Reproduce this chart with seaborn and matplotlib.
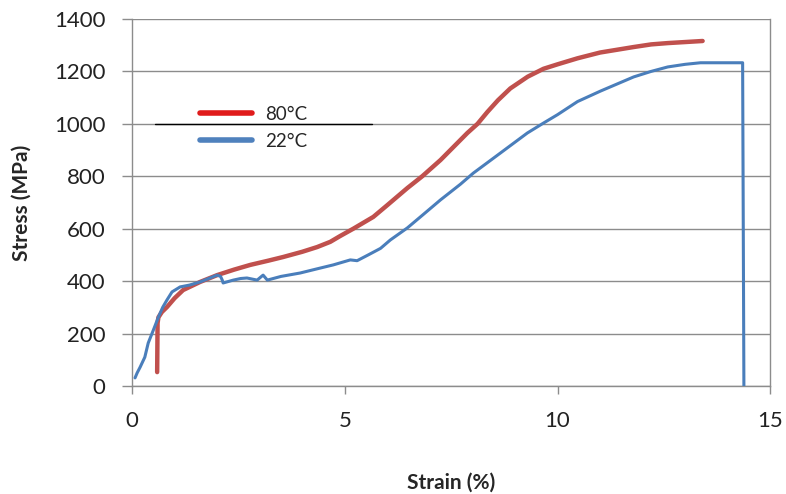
import matplotlib
matplotlib.use("Agg")
import matplotlib.pyplot as plt
import seaborn as sns
import pandas as pd
from matplotlib.lines import Line2D

# ---- data ----
strain_80 = [0.59, 0.60, 0.62, 0.70, 0.82, 1.00, 1.20, 1.60, 2.00, 2.40, 2.78, 3.20,
             3.55, 4.00, 4.35, 4.66, 4.89, 5.20, 5.67, 6.00, 6.47, 6.82, 7.25, 7.88,
             8.12, 8.35, 8.60, 8.89, 9.30, 9.67, 10.00, 10.47, 11.00, 11.79, 12.20,
             12.59, 13.00, 13.41]
stress_80 = [53, 240, 262, 282, 301, 335, 366, 397, 423, 444, 462, 478,
             492, 512, 530, 550, 572, 600, 645, 690, 755, 800, 862, 965,
             1000, 1045, 1090, 1135, 1180, 1210, 1227, 1250, 1272, 1293, 1303,
             1308, 1312, 1316]

strain_22 = [0.07, 0.12, 0.19, 0.30, 0.38, 0.50, 0.62, 0.72, 0.82, 0.94, 1.13, 1.35,
             1.60, 2.00, 2.08, 2.12, 2.14, 2.38, 2.55, 2.70, 2.94, 3.08, 3.18, 3.50,
             3.95, 4.35, 4.73, 5.13, 5.29, 5.55, 5.84, 6.07, 6.47, 6.85, 7.25,
             7.72, 8.02, 8.66, 9.29, 9.67, 10.00, 10.47, 11.01, 11.79,
             12.20, 12.59, 13.00, 13.36, 14.00, 14.35, 14.38]
stress_22 = [31, 50, 72, 110, 164, 213, 263, 300, 328, 359, 378, 385,
             397, 423, 418, 404, 393, 404, 410, 412, 404, 423, 404, 418,
             431, 447, 462, 481, 478, 500, 525, 557, 603, 655, 710,
             770, 812, 889, 965, 1003, 1035, 1085, 1125, 1179,
             1200, 1217, 1227, 1233, 1233, 1233, 0]

labels = ["80°C", "22°C"]
colors = {"80°C": "#C0504D", "22°C": "#4A7EBB"}
legend_colors = ["#E01B1B", "#4F81BD"]

x_ticks = [0, 5, 10, 15]
y_ticks = [0, 200, 400, 600, 800, 1000, 1200, 1400]

df = pd.concat([
    pd.DataFrame({"Strain": strain_80, "Stress": stress_80, "T": labels[0]}),
    pd.DataFrame({"Strain": strain_22, "Stress": stress_22, "T": labels[1]}),
], ignore_index=True)

sns.set_theme(style="white")
plt.rcParams["font.family"] = ["Lato", "DejaVu Sans"]

fig = plt.figure(figsize=(7.86, 4.94), dpi=100)
ax = fig.add_axes([0.168, 0.2186, 0.812, 0.743])

for lab, lw in zip(labels, [3.2, 2.2]):
    sub = df[df["T"] == lab]
    sns.lineplot(data=sub, x="Strain", y="Stress", sort=False, estimator=None,
                 color=colors[lab], lw=lw, ax=ax, legend=False, zorder=3)

ax.set_xlim(0, 15)
ax.set_ylim(0, 1400)
ax.set_xticks(x_ticks)
ax.set_yticks(y_ticks)
ax.yaxis.grid(True, color="#8C8C8C", lw=1.0)
ax.xaxis.grid(False)
ax.set_axisbelow(True)
for s in ["left", "bottom", "right"]:
    ax.spines[s].set_color("#8C8C8C")
    ax.spines[s].set_linewidth(1.0)
ax.spines["top"].set_visible(False)
ax.tick_params(axis="both", which="both", direction="out", length=7, width=1,
               color="#8C8C8C", labelsize=16, labelcolor="#222222")
ax.tick_params(axis="y", pad=12)
ax.tick_params(axis="x", pad=12, length=6)
ax.tick_params(left=True, bottom=True)

ax.set_xlabel("Strain (%)", fontsize=15, fontweight="bold", labelpad=30)
ax.set_ylabel("Stress (MPa)", fontsize=15, fontweight="bold", labelpad=16)

# dark segment across the 1000 gridline behind the legend
ax.axhline(1000, xmin=0.036, xmax=0.376, color="black", lw=1.0, zorder=2)

handles = [Line2D([0], [0], color=c, lw=4) for c in legend_colors]
ax.legend(handles, labels, loc="upper left", bbox_to_anchor=(0.08, 0.81),
          frameon=False, fontsize=13.5, handlelength=2.8, labelspacing=0.55,
          handletextpad=0.7)

fig.savefig("out.png", dpi=100)
